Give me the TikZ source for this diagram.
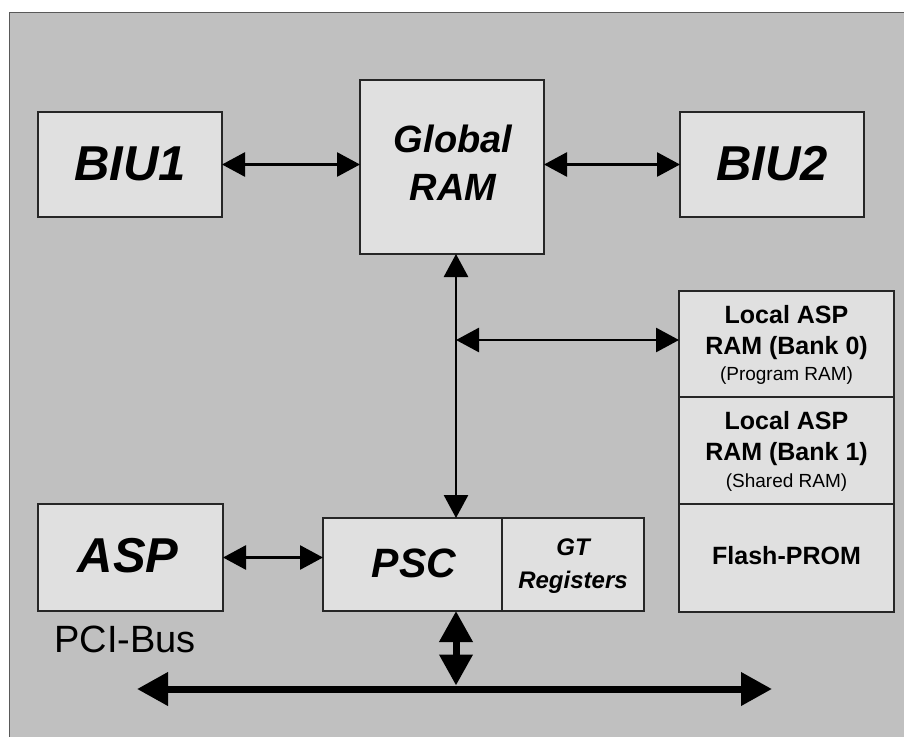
\documentclass[tikz,border=0pt]{standalone}
\usepackage{fontspec}
\setmainfont{Liberation Sans}
\usetikzlibrary{arrows.meta}
\definecolor{bg}{HTML}{C0C0C0}
\definecolor{boxfill}{HTML}{E0E0E0}

\begin{document}
\begin{tikzpicture}[x=1pt,y=-1pt,
  box/.style={draw=black!85, line width=1.2pt, fill=boxfill, inner sep=0pt,
    outer sep=0pt, anchor=north west},
  bigtxt/.style={font=\fontsize{49}{58}\selectfont\bfseries\itshape, inner sep=0pt, anchor=base},
  midtxt/.style={font=\fontsize{38}{48}\selectfont\bfseries\itshape, inner sep=0pt, anchor=base},
  psctxt/.style={font=\fontsize{41}{48}\selectfont\bfseries\itshape, inner sep=0pt, anchor=base},
  gttxt/.style={font=\fontsize{24}{33}\selectfont\bfseries\itshape, inner sep=0pt, anchor=base},
  ramtxt/.style={font=\fontsize{25}{31}\selectfont\bfseries, inner sep=0pt, anchor=base},
  notetxt/.style={font=\fontsize{19}{26}\selectfont, inner sep=0pt, anchor=base},
  bustxt/.style={font=\fontsize{38}{46}\selectfont, inner sep=0pt, anchor=base},
  link/.style={line width=2.8pt,
    {Triangle[length=23pt,width=24pt]}-{Triangle[length=23pt,width=24pt]}},
  fatlink/.style={line width=7pt,
    {Triangle[length=31pt,width=32pt]}-{Triangle[length=31pt,width=32pt]}},
]
\useasboundingbox (0,0) rectangle (904,736);
\clip (0,0) rectangle (904,736);
\fill[white] (0,0) rectangle (904,736);
% panel
\draw[fill=bg, draw=black!65, line width=1pt] (9.5,12.5) rectangle (920,750);

% blocks
\node[box, minimum width=184pt, minimum height=105pt] (biu1) at (38,112) {};
\node[box, minimum width=184pt, minimum height=174pt] (gram) at (360,80) {};
\node[box, minimum width=184pt, minimum height=105pt] (biu2) at (680,112) {};
\node[box, minimum width=215pt, minimum height=106pt] (ram0) at (679,291) {};
\node[box, minimum width=215pt, minimum height=107pt] (ram1) at (679,397) {};
\node[box, minimum width=215pt, minimum height=108pt] (flash) at (679,504) {};
\node[box, minimum width=185pt, minimum height=107pt] (asp) at (38,504) {};
\node[box, minimum width=179pt, minimum height=93pt] (psc) at (323,518) {};
\node[box, minimum width=142pt, minimum height=93pt] (gtreg) at (502,518) {};

% labels
\node[bigtxt] (biu1-t) at (130,180) {BIU1};
\node[bigtxt] (biu2-t) at (772,180) {BIU2};
\node[midtxt] (gram-t1) at (453,152) {Global};
\node[midtxt] (gram-t2) at (453,200) {RAM};
\node[bigtxt] (asp-t) at (128,572) {ASP};
\node[psctxt] (psc-t) at (414,577) {PSC};
\node[gttxt] (gt-t1) at (573,555) {GT};
\node[gttxt] (gt-t2) at (573,588) {Registers};
\node[ramtxt] (ram0-t1) at (786.5,323) {Local ASP};
\node[ramtxt] (ram0-t2) at (786.5,354) {RAM (Bank 0)};
\node[notetxt] (ram0-t3) at (786.5,380) {(Program RAM)};
\node[ramtxt] (ram1-t1) at (786.5,429) {Local ASP};
\node[ramtxt] (ram1-t2) at (786.5,460) {RAM (Bank 1)};
\node[notetxt] (ram1-t3) at (786.5,487) {(Shared RAM)};
\node[ramtxt] (flash-t) at (786.5,564) {Flash-PROM};
\node[bustxt] (pci-t) at (125,652) {PCI-Bus};

% bus end points and taps
\coordinate (busL) at (137,689);
\coordinate (busR) at (772,689);
\coordinate (tap) at (456,689);
\coordinate (vline) at (456,340);

% connectors
\draw[link] (biu1.east) -- (biu1.east -| gram.west);
\draw[link] (biu1.east -| gram.east) -- (biu1.east -| biu2.west);
\draw[link] (vline |- gram.south) -- (vline |- psc.north);
\draw[link] (vline) -- (vline -| ram0.west);
\draw[link] (asp.east) -- (asp.east -| psc.west);
\draw[fatlink] (busL) -- (busR);
\draw[fatlink, shorten >=3.5pt] (tap |- psc.south) -- (tap);
\end{tikzpicture}
\end{document}
